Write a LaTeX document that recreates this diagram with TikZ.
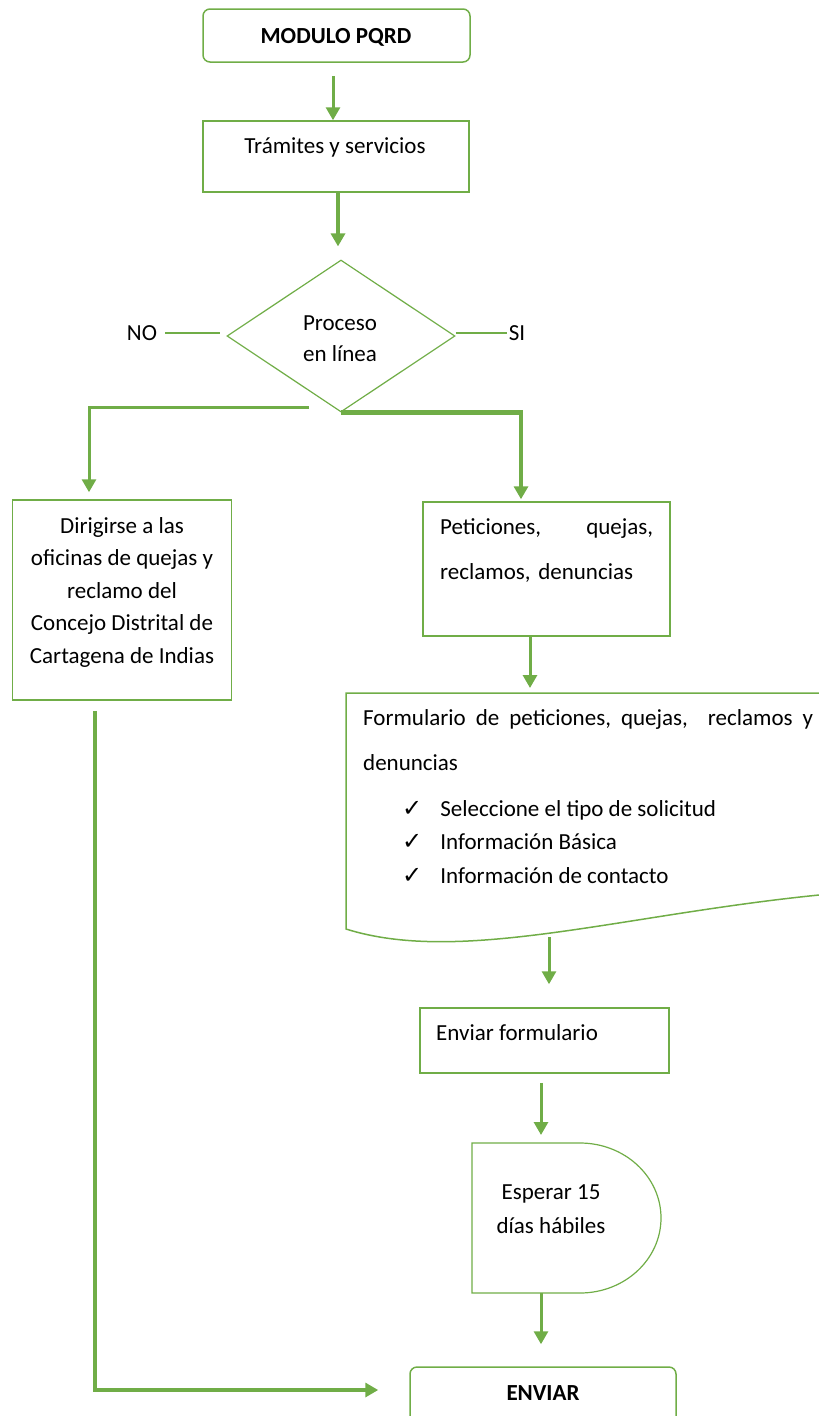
\documentclass[tikz,border=0pt]{standalone}
\usepackage{fontspec}
\setmainfont{Carlito}
\newfontfamily\chkfont{DejaVu Sans}
\usetikzlibrary{arrows.meta}
\usetikzlibrary{shapes.geometric}
\definecolor{verde}{RGB}{112,173,71}
\newcommand{\chk}{{\chkfont\fontsize{24}{24}\selectfont ✓}}
\frenchspacing

\begin{document}
\begin{tikzpicture}[x=1pt,y=-1pt,
    font=\fontsize{23}{33}\selectfont,
    box/.style={draw=verde,line width=1.5pt,inner sep=0pt},
    rbox/.style={box,rounded corners=7pt},
    txt/.style={inner sep=1pt,text=black},
    link/.style={draw=verde,line width=3pt,-{Triangle[length=13pt,width=14pt]}},
    thick link/.style={link,line width=4.5pt},
    plain/.style={draw=verde,line width=1.5pt}]
  \useasboundingbox (0,0) rectangle (819,1416);

  % cajas
  \node[rbox,minimum width=267pt,minimum height=53pt] (mod)  at (336.5,35.5) {};
  \node[box,minimum width=266pt,minimum height=71pt]  (tram) at (336,156.5) {};
  \node[box,diamond,line width=1.2pt,minimum width=228pt,minimum height=152pt] (dec) at (341,336) {};
  \node[box,minimum width=219pt,minimum height=200pt] (ofi)  at (122,600) {};
  \node[box,minimum width=247pt,minimum height=134pt] (pet)  at (546.5,569) {};
  \draw[box] (346,693) -- (835,693) -- (835,893) -- (819,895)
    .. controls (620,915) and (460,965) .. (346,929) -- cycle;
  \node[box,minimum width=249pt,minimum height=65pt]  (envf) at (544.5,1040.5) {};
  \draw[box,line width=1.2pt] (472,1143) -- (580,1143)
    arc[start angle=90,end angle=-90,x radius=81pt,y radius=75pt] -- (472,1293) -- cycle;
  \node[rbox,minimum width=266pt,minimum height=80pt] (env)  at (543,1407) {};

  \coordinate (formtop) at (530,693);
  \coordinate (formbot) at (549,937);
  \coordinate (esptop)  at (541,1143);
  \coordinate (espbot)  at (541,1293);
  \coordinate (nobr)    at (309,407);

  % textos
  \node[txt,font={\fontsize{23}{33}\selectfont\bfseries}] (modt) at (336,37) {MODULO PQRD};
  \node[txt] (tramt) at (335,147) {Trámites y servicios};
  \node[txt,align=center,font=\fontsize{23}{31}\selectfont] (dect) at (340,338.5) {Proceso\\en línea};
  \node[txt] (no) at (142,333) {NO};
  \node[txt] (si) at (517,333) {SI};
  \node[txt,align=center,font=\fontsize{23}{32.5}\selectfont] (ofit) at (122,592)
    {Dirigirse a las\\oficinas de quejas y\\reclamo del\\Concejo Distrital de\\Cartagena de Indias};
  \node[txt,anchor=west,text width=213pt,align=left,font=\fontsize{23}{45}\selectfont] (pett) at (439,550.5)
    {Peticiones,\hskip 0pt plus 1filll quejas,\\reclamos, denuncias};
  \node[txt,anchor=west,text width=450pt,align=justify,font=\fontsize{23}{45}\selectfont] (formt) at (362,740.5)
    {Formulario de peticiones, quejas, \ reclamos y\linebreak denuncias};
  \node[txt,anchor=west,align=left,font=\fontsize{23}{33.5}\selectfont] (lista) at (401,842)
    {\chk\hspace{18pt}Seleccione el tipo de solicitud\\ \chk\hspace{18pt}Información Básica\\ \chk\hspace{18pt}Información de contacto};
  \node[txt,anchor=west] (envft) at (435,1033) {Enviar formulario};
  \node[txt,align=center,font=\fontsize{23}{34}\selectfont] (espt) at (551,1209) {Esperar 15\\días hábiles};
  \node[txt,font={\fontsize{23}{33}\selectfont\bfseries}] (envt) at (543,1393) {ENVIAR};

  % flechas
  \draw[link,shorten <=13pt] ([xshift=-3.5pt]mod.south) -- ([xshift=-3pt]tram.north);
  \draw[thick link] ([xshift=2pt]tram.south) -- ([xshift=-3pt,yshift=13pt]dec.north);
  \draw[plain,shorten <=7pt,shorten >=6pt] (no) -- (no -| dec.west);
  \draw[plain,shorten >=1pt] (si -| dec.east) -- (si);
  \draw[link] (nobr) -| ([xshift=-33pt,yshift=7pt]ofi.north);
  \draw[thick link] (dec.south) -| ([xshift=-25.5pt,yshift=2pt]pet.north);
  \draw[link,shorten >=5pt] ([xshift=-16.5pt]pet.south) -- (formtop);
  \draw[link] (formbot) -- ([xshift=4.5pt,yshift=23pt]envf.north);
  \draw[link,shorten <=9pt,shorten >=8pt] ([xshift=-3.5pt]envf.south) -- (esptop);
  \draw[link,shorten >=22pt] (espbot) -- (espbot |- env.north);
  \draw[thick link,shorten <=10pt,shorten >=31pt] ([xshift=-27pt]ofi.south) |- ([yshift=17pt]env.west);
\end{tikzpicture}
\end{document}
